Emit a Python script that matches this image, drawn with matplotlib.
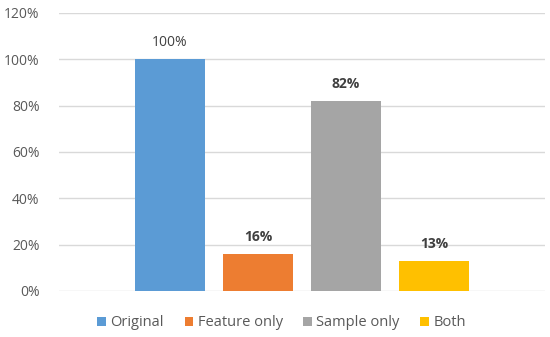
import matplotlib
matplotlib.use("Agg")
import matplotlib.pyplot as plt
from matplotlib.ticker import PercentFormatter

# values
series = ["Original", "Feature only", "Sample only", "Both"]
values = [100, 16, 82, 13]
labels = ["100%", "16%", "82%", "13%"]
colors = ["#5B9BD5", "#ED7D31", "#A5A5A5", "#FFC000"]
yticks = [0, 20, 40, 60, 80, 100, 120]

plt.rcParams["font.family"] = ["Open Sans", "DejaVu Sans"]

fig = plt.figure(figsize=(5.5, 3.37), dpi=100)
ax = fig.add_axes([0.107, 0.1365, 0.884, 0.825])

xs = range(len(series))
bars = ax.bar(xs, values, width=0.79, color=colors, label=series, zorder=2)

for i, (b, lab) in enumerate(zip(bars, labels)):
    ax.annotate(lab, (b.get_x() + b.get_width() / 2, b.get_height()),
                xytext=(0, 12), textcoords="offset points", ha="center", va="center",
                fontsize=10, color="#404040",
                fontweight="normal" if i == 0 else "bold")

ax.set_xlim(-1.26, 4.26)
ax.set_ylim(0, 120)
ax.set_yticks(yticks)
ax.yaxis.set_major_formatter(PercentFormatter(decimals=0))
ax.set_xticks([])
ax.grid(axis="y", color="#D9D9D9", linewidth=1, zorder=0)
for s in ax.spines.values():
    s.set_visible(False)
ax.tick_params(axis="y", length=0, pad=14, labelsize=10, labelcolor="#595959")

fig.legend(handles=bars, labels=series, loc="center", bbox_to_anchor=(0.512, 0.042),
           ncol=4, frameon=False, fontsize=10.5, handlelength=0.6, handleheight=0.6,
           handletextpad=0.3, columnspacing=1.4, labelcolor="#595959")

fig.savefig("out.png", dpi=100)
